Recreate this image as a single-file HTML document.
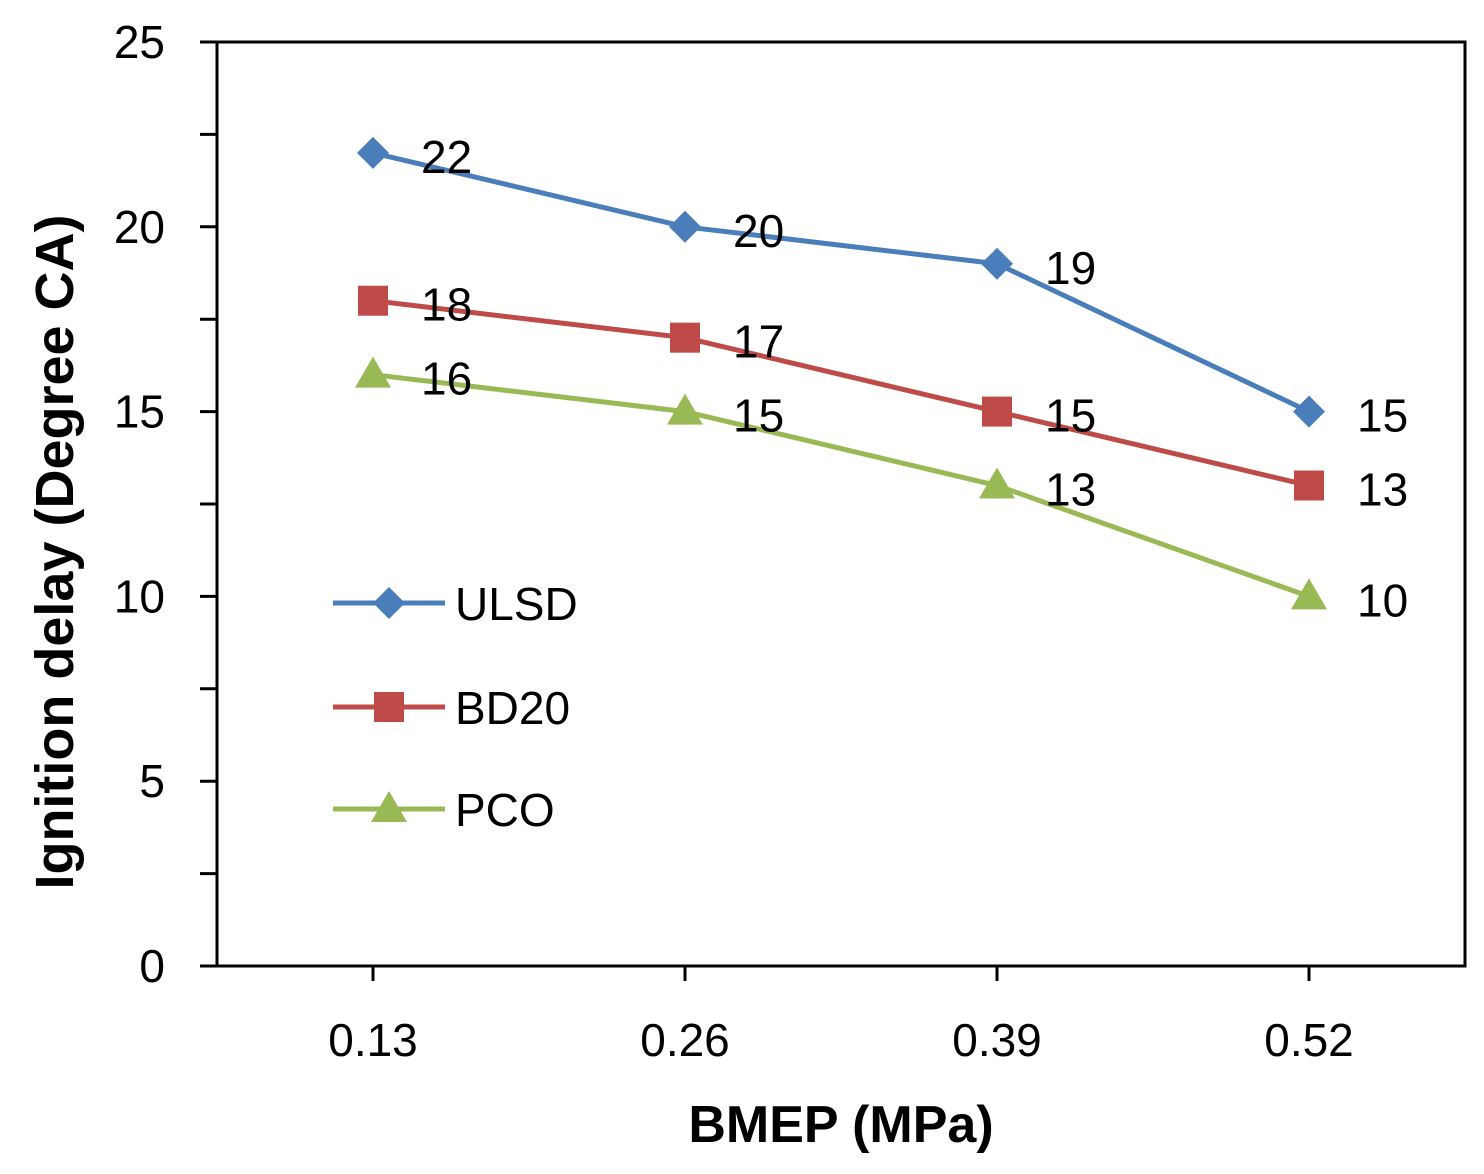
<!DOCTYPE html>
<html><head><meta charset="utf-8"><style>
body{margin:0;background:#fff}
svg{display:block;font-family:"Liberation Sans",sans-serif}
</style></head><body>
<svg id="chart" width="1484" height="1174" viewBox="0 0 1484 1174">
<g id="axes"></g><g id="series"></g><g id="legend"></g>
</svg>
<script>
const categories = ["0.13","0.26","0.39","0.52"];
const seriesNames = ["ULSD","BD20","PCO"];
const ulsd = [22,20,19,15];
const bd20 = [18,17,15,13];
const pco = [16,15,13,10];
const yTicks = [0,5,10,15,20,25];
const colors = ["#4A7EBB","#BE4B48","#98B954"];
const markers = ["diamond","square","triangle"];

const L=217,R=1465,T=42,B=966,yMax=25;
const NS="http://www.w3.org/2000/svg";
const bw=(R-L)/categories.length;
function x(i){return L+bw*(i+0.5);}
function y(v){return B-(v/yMax)*(B-T);}
function mk(tag,attrs,parent,text){const e=document.createElementNS(NS,tag);for(const k in attrs)e.setAttribute(k,attrs[k]);if(text!==undefined)e.textContent=text;parent.appendChild(e);return e;}
const axes=document.getElementById('axes'),ser=document.getElementById('series'),leg=document.getElementById('legend');

const frame=mk('rect',{x:L,y:T,width:R-L,height:B-T,fill:'none',stroke:'#000','stroke-width':3},axes);


yTicks.forEach(v=>{
  const t=mk('line',{x1:L-17,x2:L,y1:y(v),y2:y(v),stroke:'#000','stroke-width':3},axes);
  
  
  if(v<yMax){const m=mk('line',{x1:L-17,x2:L,y1:y(v+2.5),y2:y(v+2.5),stroke:'#000','stroke-width':3},axes);
  
  }
  const lb=mk('text',{x:L-52,y:y(v)+16,'font-size':46,'text-anchor':'end',fill:'#000'},axes,String(v));
  
  
});
categories.forEach((c,i)=>{
  const t=mk('line',{x1:x(i),x2:x(i),y1:B,y2:B+15,stroke:'#000','stroke-width':3},axes);
  
  
  const lb=mk('text',{x:x(i),y:1056,'font-size':46,'text-anchor':'middle',fill:'#000'},axes,c);
  
  
});
const xt=mk('text',{x:841,y:1142,'font-size':52,'font-weight':'bold','text-anchor':'middle'},axes,'BMEP (MPa)');


const yt=mk('text',{x:0,y:0,'font-size':54,'font-weight':'bold','text-anchor':'middle',transform:'translate(73,552) rotate(-90)'},axes,'Ignition delay (Degree CA)');



function marker(type,cx,cy,color,parent){
  if(type==='diamond')return mk('polygon',{points:`${cx},${cy-16} ${cx+16},${cy} ${cx},${cy+16} ${cx-16},${cy}`,fill:color},parent);
  if(type==='square')return mk('rect',{x:cx-15,y:cy-15,width:30,height:30,fill:color},parent);
  return mk('polygon',{points:`${cx},${cy-18} ${cx+18},${cy+13} ${cx-18},${cy+13}`,fill:color},parent);
}
[ulsd,bd20,pco].forEach((data,s)=>{
  const g=mk('g',{},ser);
  
  
  const pl=mk('polyline',{points:data.map((v,i)=>x(i)+','+y(v)).join(' '),fill:'none',stroke:colors[s],'stroke-width':5},g);
  
  
  data.forEach((v,i)=>{
    const m=marker(markers[s],x(i),y(v),colors[s],g);
    
    
    const lb=mk('text',{x:x(i)+48,y:y(v)+20,'font-size':46,fill:'#000'},g,String(v));
    
    
  });
});
const legY=[603,707,809];
seriesNames.forEach((n,s)=>{
  const g=mk('g',{},leg);
  
  
  mk('line',{x1:333,x2:445,y1:legY[s],y2:legY[s],stroke:colors[s],'stroke-width':5},g);
  marker(markers[s],389,legY[s],colors[s],g);
  mk('text',{x:455,y:legY[s]+17,'font-size':46,fill:'#000'},g,n);
});
</script>
</body></html>
